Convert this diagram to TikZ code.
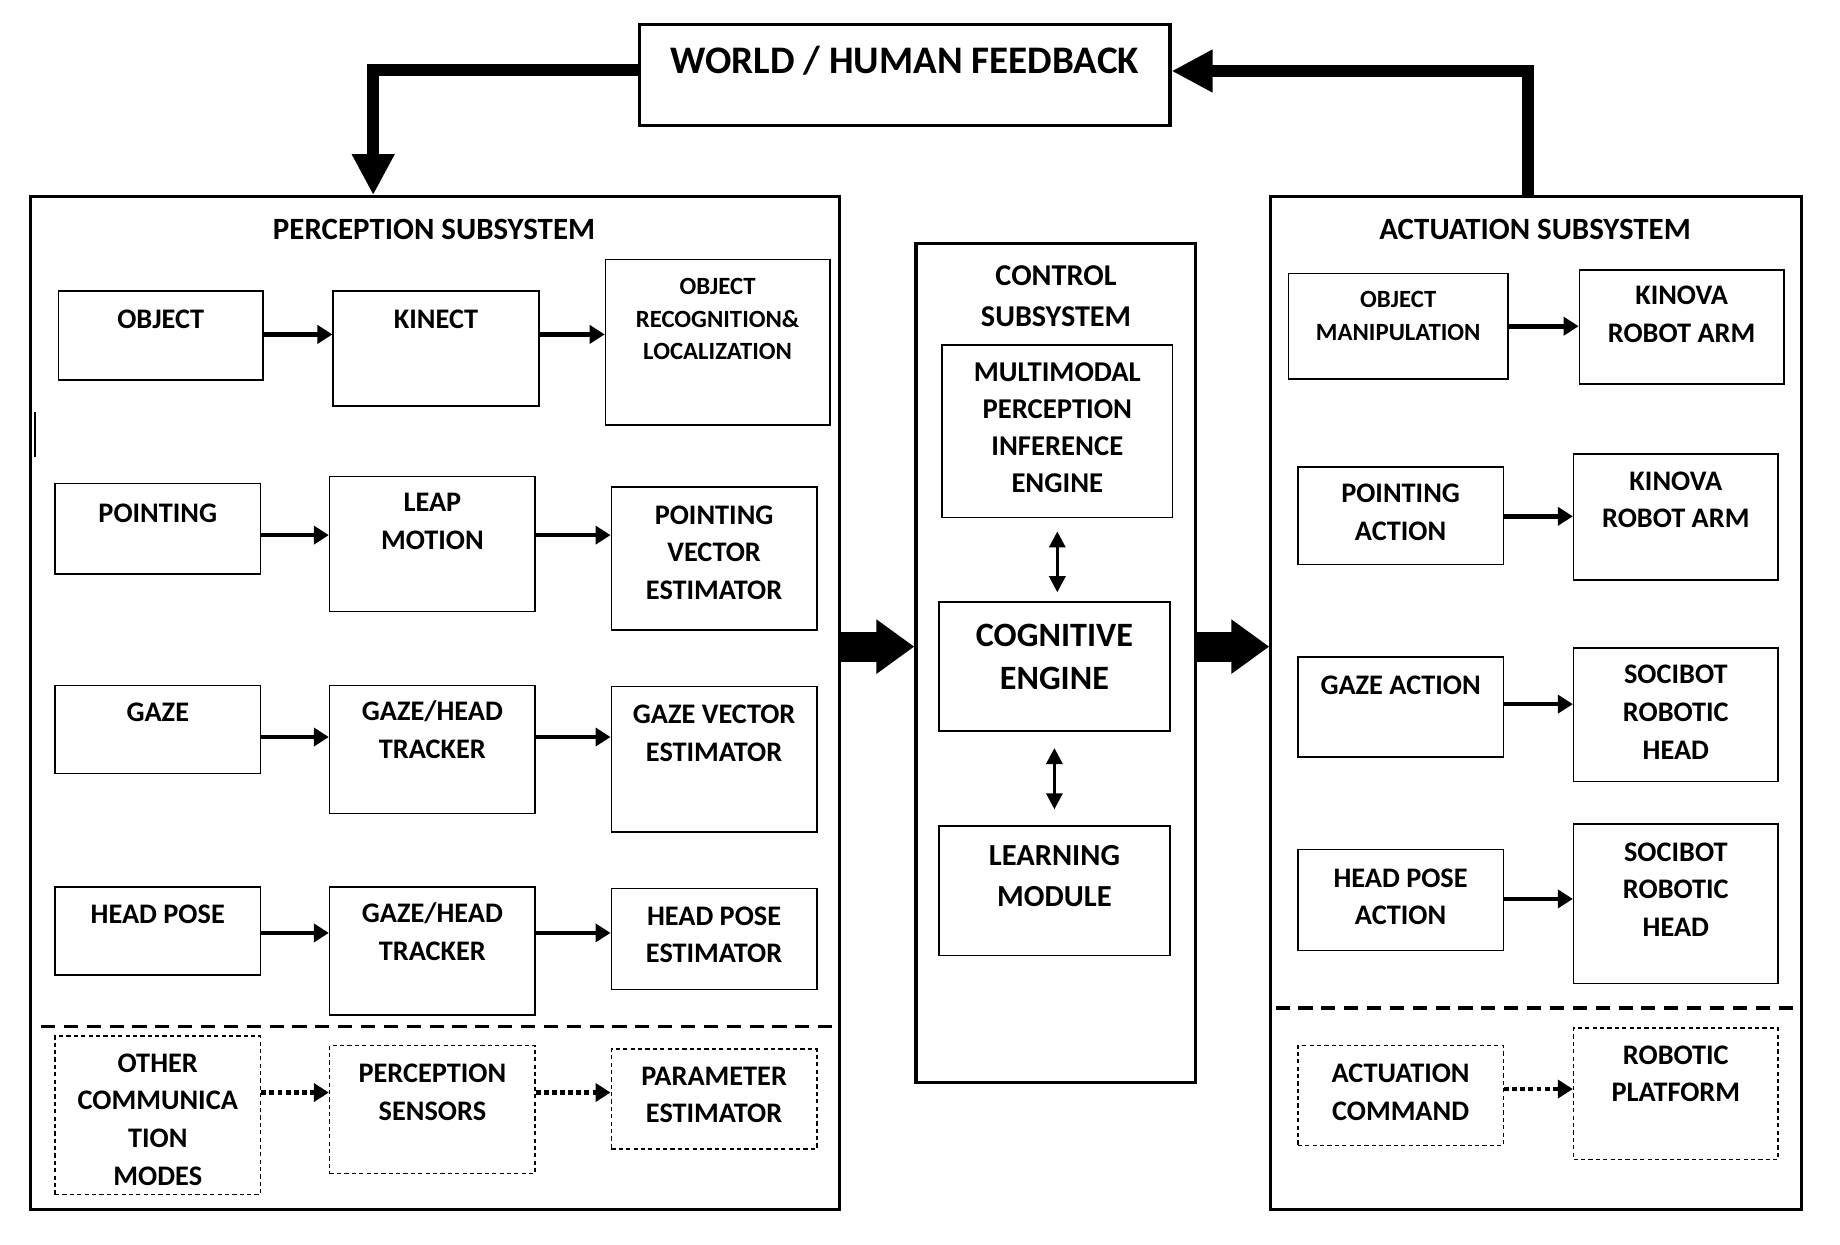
\documentclass[tikz,border=0pt]{standalone}
\usepackage{fontspec}
\setmainfont{Carlito}
\usetikzlibrary{arrows.meta}

\begin{document}
\begin{tikzpicture}[x=0.01cm,y=-0.01cm]
\tikzstyle{blk}=[draw,line width=0.45pt,inner sep=0pt]
\tikzstyle{dblk}=[blk,dash pattern=on 1.2pt off 0.9pt]
\tikzstyle{sys}=[draw,line width=0.9pt,inner sep=0pt]
\tikzstyle{txt}=[align=center,inner sep=0pt,font=\bfseries\fontsize{8.05}{10.7}\selectfont]
\tikzstyle{stxt}=[txt,font=\bfseries\fontsize{7.05}{9.3}\selectfont]
\tikzstyle{arr}=[line width=1.3pt,-{Triangle[length=0.15cm,width=0.18cm]}]
\tikzstyle{darr}=[arr,dash pattern=on 1.4pt off 0.9pt]
\tikzstyle{fat}=[line width=0.3cm,-{Triangle[length=0.38cm,width=0.52cm]}]
\tikzstyle{fb}=[line width=0.12cm,-{Triangle[length=0.41cm,width=0.40cm]}]
\tikzstyle{dbl}=[line width=0.9pt,{Triangle[length=0.16cm,width=0.16cm]}-{Triangle[length=0.16cm,width=0.16cm]}]
\useasboundingbox (0,0) rectangle (1840,1244);

% feedback box and subsystems
\node[sys,minimum width=5.30cm,minimum height=1.01cm] (world) at (904.8,75.1) {};
\node[txt,font=\bfseries\fontsize{11.1}{13}\selectfont] (worldt) at (904.8,61) {WORLD / HUMAN FEEDBACK};
\node[sys,minimum width=8.08cm,minimum height=10.12cm] (per) at (435,703) {};
\node[sys,minimum width=5.30cm,minimum height=10.12cm] (act) at (1536,703) {};
\node[sys,minimum width=2.79cm,minimum height=8.38cm] (ctl) at (1055.5,663) {};
\node[txt,font=\bfseries\fontsize{8.8}{10}\selectfont] (pert) at (434,229) {PERCEPTION SUBSYSTEM};
\node[txt,font=\bfseries\fontsize{8.8}{10}\selectfont] (actt) at (1535,229) {ACTUATION SUBSYSTEM};
\node[txt,font=\bfseries\fontsize{8.6}{11.6}\selectfont] (ctlt) at (1056,296) {CONTROL\\SUBSYSTEM};
\draw[line width=0.5pt] (35,412) -- (35,457);

% perception blocks
\node[blk,minimum width=2.042cm,minimum height=0.892cm] (obj) at (160.8,335.6) {};
\node[blk,minimum width=2.054cm,minimum height=1.150cm] (kin) at (436,348.5) {};
\node[blk,minimum width=2.241cm,minimum height=1.655cm] (rec) at (717.6,342.1) {};
\node[blk,minimum width=2.054cm,minimum height=0.904cm] (pnt) at (157.8,528.7) {};
\node[blk,minimum width=2.054cm,minimum height=1.350cm] (leap) at (432.4,543.9) {};
\node[blk,minimum width=2.054cm,minimum height=1.432cm] (pve) at (714.1,558.6) {};
\node[blk,minimum width=2.054cm,minimum height=0.880cm] (gaze) at (157.8,729.3) {};
\node[blk,minimum width=2.054cm,minimum height=1.279cm] (ght) at (432.4,749.3) {};
\node[blk,minimum width=2.054cm,minimum height=1.455cm] (gve) at (714.1,759.3) {};
\node[blk,minimum width=2.054cm,minimum height=0.880cm] (hp) at (157.8,931.2) {};
\node[blk,minimum width=2.054cm,minimum height=1.279cm] (hpk) at (432.4,951.1) {};
\node[blk,minimum width=2.054cm,minimum height=1.010cm] (hpe) at (714.1,938.8) {};
\node[dblk,minimum width=2.054cm,minimum height=1.584cm] (oth) at (157.8,1115.4) {};
\node[dblk,minimum width=2.054cm,minimum height=1.279cm] (sen) at (432.4,1109.5) {};
\node[dblk,minimum width=2.054cm,minimum height=0.998cm] (par) at (714.1,1099) {};

\node[txt] (objt) at (160.8,319.2) {OBJECT};
\node[txt] (kint) at (436,319.2) {KINECT};
\node[stxt] (rect) at (717.6,319.2) {OBJECT\\RECOGNITION\&\\LOCALIZATION};
\node[txt] (pntt) at (157.8,512.8) {POINTING};
\node[txt] (leapt) at (432.4,521.6) {LEAP\\MOTION};
\node[txt] (pvet) at (714.1,552.7) {POINTING\\VECTOR\\ESTIMATOR};
\node[txt] (gazet) at (157.8,712.3) {GAZE};
\node[txt] (ghtt) at (432.4,729.9) {GAZE/HEAD\\TRACKER};
\node[txt] (gvet) at (714.1,733.4) {GAZE VECTOR\\ESTIMATOR};
\node[txt] (hpt) at (157.8,914.2) {HEAD POSE};
\node[txt] (hpkt) at (432.4,931.8) {GAZE/HEAD\\TRACKER};
\node[txt] (hpet) at (714.1,934.7) {HEAD POSE\\ESTIMATOR};
\node[txt] (otht) at (157.8,1119.5) {OTHER\\COMMUNICA\\TION\\MODES};
\node[txt] (sent) at (432.4,1092.5) {PERCEPTION\\SENSORS};
\node[txt] (part) at (714.1,1094.9) {PARAMETER\\ESTIMATOR};

\draw[arr] (obj.east |- 0,334.4) -- (kin.west |- 0,334.4);
\draw[arr] (kin.east |- 0,334.4) -- (rec.west |- 0,334.4);
\draw[arr] (pnt.east |- 0,535.1) -- (leap.west |- 0,535.1);
\draw[arr] (leap.east |- 0,535.1) -- (pve.west |- 0,535.1);
\draw[arr] (gaze.east |- 0,737) -- (ght.west |- 0,737);
\draw[arr] (ght.east |- 0,737) -- (gve.west |- 0,737);
\draw[arr] (hp.east |- 0,932.9) -- (hpk.west |- 0,932.9);
\draw[arr] (hpk.east |- 0,932.9) -- (hpe.west |- 0,932.9);
\draw[darr] (oth.east |- 0,1092.5) -- (sen.west |- 0,1092.5);
\draw[darr] (sen.east |- 0,1092.5) -- (par.west |- 0,1092.5);
\draw[line width=0.9pt,dash pattern=on 4pt off 2.5pt] (41,1026.8) -- (836.7,1026.8);

% control blocks
\node[blk,minimum width=2.30cm,minimum height=1.725cm] (mm) at (1057.3,431.3) {};
\node[blk,minimum width=2.312cm,minimum height=1.291cm] (cog) at (1054.4,666.6) {};
\node[blk,minimum width=2.312cm,minimum height=1.291cm] (lm) at (1054.4,890.7) {};
\node[txt,font=\bfseries\fontsize{8.15}{10.5}\selectfont] (mmt) at (1057.3,427.7) {MULTIMODAL\\PERCEPTION\\INFERENCE\\ENGINE};
\node[txt,font=\bfseries\fontsize{9.7}{12.3}\selectfont] (cogt) at (1054.4,656.6) {COGNITIVE\\ENGINE};
\node[txt,font=\bfseries\fontsize{8.7}{11.6}\selectfont] (lmt) at (1054.4,876) {LEARNING\\MODULE};
\draw[dbl,shorten <=0.13cm,shorten >=0.09cm] (mm.south) -- (mm.south |- cog.north);
\draw[dbl,shorten <=0.16cm,shorten >=0.16cm] (cog.south) -- (cog.south |- lm.north);

% actuation blocks
\node[blk,minimum width=2.195cm,minimum height=1.056cm] (om) at (1398.2,326.2) {};
\node[blk,minimum width=2.042cm,minimum height=1.138cm] (ka) at (1681.6,326.8) {};
\node[blk,minimum width=2.054cm,minimum height=0.974cm] (pa) at (1400.6,515.8) {};
\node[blk,minimum width=2.042cm,minimum height=1.256cm] (kb) at (1675.8,516.9) {};
\node[blk,minimum width=2.054cm,minimum height=0.997cm] (ga) at (1400.6,707) {};
\node[blk,minimum width=2.042cm,minimum height=1.338cm] (sa) at (1675.8,714.7) {};
\node[blk,minimum width=2.054cm,minimum height=1.009cm] (hpa) at (1400.6,900.1) {};
\node[blk,minimum width=2.042cm,minimum height=1.596cm] (sb) at (1675.8,903.6) {};
\node[dblk,minimum width=2.054cm,minimum height=0.997cm] (ac) at (1400.6,1095.5) {};
\node[dblk,minimum width=2.042cm,minimum height=1.314cm] (rp) at (1675.8,1093.7) {};

\node[stxt] (omt) at (1398.2,315.7) {OBJECT\\MANIPULATION};
\node[txt] (kat) at (1681.6,314.5) {KINOVA\\ROBOT ARM};
\node[txt] (pat) at (1400.6,512.2) {POINTING\\ACTION};
\node[txt] (kbt) at (1675.8,499.9) {KINOVA\\ROBOT ARM};
\node[txt] (gat) at (1400.6,685.3) {GAZE ACTION};
\node[txt] (sat) at (1675.8,712.3) {SOCIBOT\\ROBOTIC\\HEAD};
\node[txt] (hpat) at (1400.6,896.6) {HEAD POSE\\ACTION};
\node[txt] (sbt) at (1675.8,889.5) {SOCIBOT\\ROBOTIC\\HEAD};
\node[txt] (act2) at (1400.6,1092.5) {ACTUATION\\COMMAND};
\node[txt] (rpt) at (1675.8,1073.8) {ROBOTIC\\PLATFORM};

\draw[arr] (om.east |- 0,326.2) -- (ka.west |- 0,326.2);
\draw[arr] (pa.east |- 0,516.3) -- (kb.west |- 0,516.3);
\draw[arr] (ga.east |- 0,704.1) -- (sa.west |- 0,704.1);
\draw[arr] (hpa.east |- 0,898.9) -- (sb.west |- 0,898.9);
\draw[darr] (ac.east |- 0,1089) -- (rp.west |- 0,1089);
\draw[line width=0.9pt,dash pattern=on 4pt off 2.5pt] (1275.6,1008) -- (1797.8,1008);

% flows between subsystems
\draw[fat] (per.east |- 0,646.6) -- (ctl.west |- 0,646.6);
\draw[fat] (ctl.east |- 0,646.6) -- (act.west |- 0,646.6);
\draw[fb] (world.west |- 0,70.4) -| (per.north -| 373.2,0);
\draw[fb] (act.north -| 1527.9,0) |- (world.east |- 0,71);
\end{tikzpicture}
\end{document}
